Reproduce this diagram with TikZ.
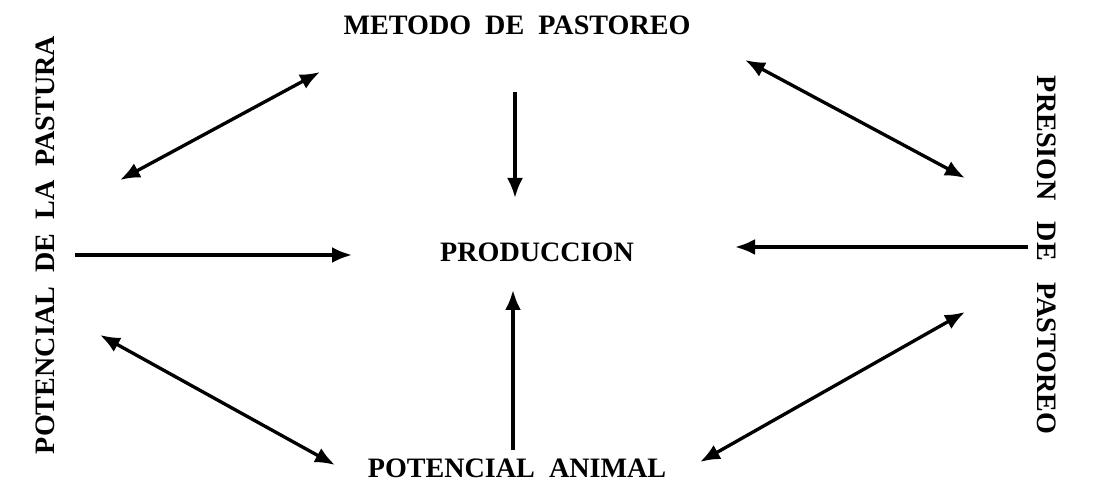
\documentclass[tikz,border=0pt]{standalone}
\usepackage{fontspec}
\setmainfont{Liberation Serif}
\usetikzlibrary{arrows.meta}

\tikzset{
  factor/.style={font=\fontsize{16}{18}\selectfont\bfseries,inner sep=0pt},
  link/.style={line width=1.9pt,-{Latex[length=4mm,width=3.2mm]}},
  twoway/.style={link,{Latex[length=4mm,width=3.2mm]}-{Latex[length=4mm,width=3.2mm]}}
}

\begin{document}
\begin{tikzpicture}
    \useasboundingbox (0,0) rectangle (218.6mm,98.2mm);

    \node[factor] (metodo) at (103.4mm,93.2mm) {METODO\ \ DE\ \ PASTOREO};
    \node[factor] (prod) at (107.4mm,47.8mm) {PRODUCCION};
    \node[factor] (animal) at (103.4mm,4.6mm) {POTENCIAL\ \ ANIMAL};
    \node[factor,rotate=90] (pastura) at (9mm,49.2mm) {POTENCIAL\ \ DE\ \ LA\ \ PASTURA};
    \node[factor,rotate=-90] (presion) at (209.4mm,47.2mm) {PRESION\ \ \ DE\ \ \ PASTOREO};

    \coordinate (ul1) at (24mm,62.2mm);
    \coordinate (ul2) at (64mm,83.8mm);
    \coordinate (ur1) at (149mm,86.2mm);
    \coordinate (ur2) at (193mm,62.6mm);
    \coordinate (ll1) at (20mm,31.2mm);
    \coordinate (ll2) at (67mm,5.2mm);
    \coordinate (lr1) at (193mm,35.8mm);
    \coordinate (lr2) at (140mm,5.8mm);

    \coordinate (lh) at (15mm,47.2mm);
    \coordinate (lh2) at (70.4mm,47.2mm);
    \coordinate (rh) at (205.6mm,48.8mm);
    \coordinate (rh2) at (147mm,48.8mm);
    \coordinate (tv) at (103mm,79.8mm);
    \coordinate (tv2) at (103mm,58.6mm);
    \coordinate (bv) at (102.6mm,8.2mm);
    \coordinate (bv2) at (102.6mm,40.2mm);

    \draw[twoway] (ul1) -- (ul2);
    \draw[twoway] (ur1) -- (ur2);
    \draw[twoway] (ll1) -- (ll2);
    \draw[twoway] (lr1) -- (lr2);

    \draw[link] (lh) -- (lh2);
    \draw[link] (rh) -- (rh2);
    \draw[link] (tv) -- (tv2);
    \draw[link] (bv) -- (bv2);
\end{tikzpicture}
\end{document}
